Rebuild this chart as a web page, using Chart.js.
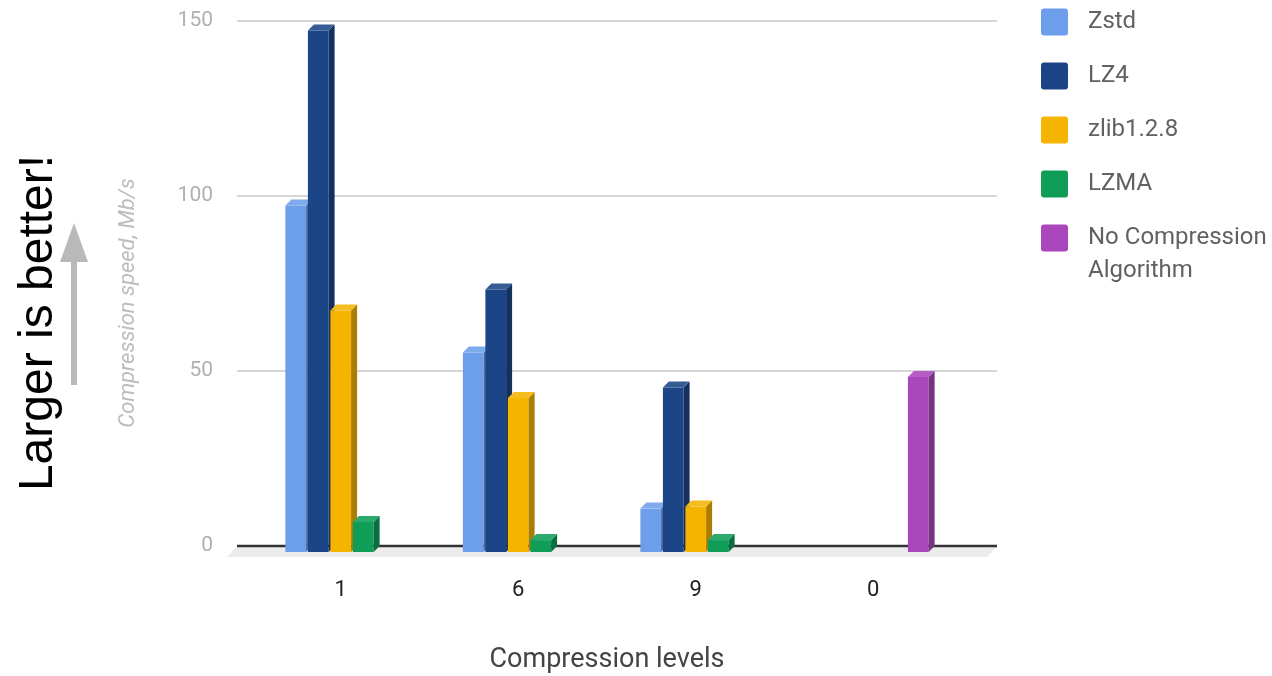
<!DOCTYPE html>
<html>
<head>
<meta charset="utf-8">
<script src="https://cdn.jsdelivr.net/npm/chart.js@4.4.1/dist/chart.umd.min.js"></script>
<style>
    html, body { margin: 0; padding: 0; background: #fff; }
    #contenedor { position: relative; width: 1272px; height: 676px; }
</style>
</head>
<body>
<div id="contenedor"><canvas id="graficoCompresion" width="1272" height="676"></canvas></div>
<script>
// ===================================== Datos ==================
var niveles = ["1", "6", "9", "0"];
var zstd = [99, 57, 12.4, null];
var lz4 = [149, 75, 47, null];
var zlib = [69, 44, 13, null];
var lzma = [8.6, 3.4, 3.4, null];
var sinCompresion = [null, null, null, 50];
var nombresSeries = ["Zstd", "LZ4", "zlib1.2.8", "LZMA", "No Compression Algorithm"];
var coloresSeries = ["#6d9eeb", "#1c4587", "#f4b400", "#0f9d58", "#ab47bc"];
var ticksY = [0, 50, 100, 150];



// ===================================== Helpers de color ==================
function mezclar(hex, destino, f) {
    const n = parseInt(hex.slice(1), 16);
    const r = (n >> 16) & 255, g = (n >> 8) & 255, b = n & 255;
    const m = c => Math.round(c + (destino - c) * f);
    return `rgb(${m(r)}, ${m(g)}, ${m(b)})`;
}
function sombra(hex) { return mezclar(hex, 0, 0.3); }
function luz(hex) { return mezclar(hex, 255, 0.12); }

function partirTexto(ctx, texto, ancho) {
    const palabras = texto.split(" ");
    const lineas = [];
    let actual = "";
    palabras.forEach(p => {
        const prueba = actual ? actual + " " + p : p;
        if (actual && ctx.measureText(prueba).width > ancho) {
            lineas.push(actual);
            actual = p;
        } else {
            actual = prueba;
        }
    });
    if (actual) lineas.push(actual);
    return lineas;
}



// ===================================== Plugin barras 3D + extras ==================
var PROF = 6;

var barras3D = {
    id: "barras3D",
    beforeDatasetsDraw(chart) {
        const ctx = chart.ctx;
        const ca = chart.chartArea;
        const ejeY = chart.scales.y;
        const gl = ca.left - 15, gr = ca.right + 35;
        const y0 = ejeY.getPixelForValue(0);

        ctx.save();
        // piso
        ctx.fillStyle = "#ececec";
        ctx.beginPath();
        ctx.moveTo(gl, y0);
        ctx.lineTo(gr, y0);
        ctx.lineTo(gr - 10, y0 + 11);
        ctx.lineTo(gl - 10, y0 + 11);
        ctx.closePath();
        ctx.fill();

        // lineas de grilla
        ticksY.forEach(v => {
            if (v === 0) return;
            const py = Math.round(ejeY.getPixelForValue(v));
            ctx.strokeStyle = "#d6d6d6";
            ctx.lineWidth = 2;
            ctx.beginPath();
            ctx.moveTo(gl, py);
            ctx.lineTo(gr, py);
            ctx.stroke();
        });

        ctx.strokeStyle = "#333";
        ctx.lineWidth = 2.5;
        ctx.beginPath();
        ctx.moveTo(gl, y0);
        ctx.lineTo(gr, y0);
        ctx.stroke();
        ctx.restore();
    },
    beforeDatasetDraw() {
        return false;
    },
    afterDatasetsDraw(chart) {
        const ctx = chart.ctx;
        const d = PROF;
        ctx.save();
        chart.data.datasets.forEach((ds, i) => {
            const meta = chart.getDatasetMeta(i);
            const color = ds.backgroundColor;
            meta.data.forEach((el, j) => {
                if (ds.data[j] == null) return;
                const izq = el.x - el.width / 2;
                const der = el.x + el.width / 2;
                const arriba = el.y + d;
                const abajo = el.base + d;

                ctx.fillStyle = color;
                ctx.fillRect(izq, arriba, der - izq, abajo - arriba);

                ctx.fillStyle = sombra(color);
                ctx.beginPath();
                ctx.moveTo(der, arriba);
                ctx.lineTo(der + d, arriba - d);
                ctx.lineTo(der + d, abajo - d);
                ctx.lineTo(der, abajo);
                ctx.closePath();
                ctx.fill();

                ctx.fillStyle = luz(color);
                ctx.beginPath();
                ctx.moveTo(izq, arriba);
                ctx.lineTo(izq + d, arriba - d);
                ctx.lineTo(der + d, arriba - d);
                ctx.lineTo(der, arriba);
                ctx.closePath();
                ctx.fill();
            });
        });
        ctx.restore();
    },
    afterDraw(chart) {
        const ctx = chart.ctx;
        ctx.save();

        // leyenda
        ctx.font = "24px Roboto";
        ctx.textBaseline = "middle";
        ctx.textAlign = "left";
        chart.data.datasets.forEach((ds, i) => {
            const yc = 22 + i * 54;
            ctx.fillStyle = ds.backgroundColor;
            ctx.beginPath();
            ctx.roundRect(1041, yc - 13.5, 27, 27, 3);
            ctx.fill();
            ctx.fillStyle = "#616161";
            partirTexto(ctx, ds.label, 185).forEach((l, k) => {
                ctx.fillText(l, 1088, yc + k * 33);
            });
        });

        // titulo eje Y
        ctx.save();
        ctx.translate(128, 303);
        ctx.rotate(-Math.PI / 2);
        ctx.font = "italic 22px Roboto";
        ctx.fillStyle = "#bdbdbd";
        ctx.textAlign = "center";
        ctx.textBaseline = "middle";
        ctx.fillText("Compression speed, Mb/s", 0, 0);
        ctx.restore();

        // anotacion "Larger is better!"
        ctx.save();
        ctx.translate(52, 323);
        ctx.rotate(-Math.PI / 2);
        ctx.font = "48px 'Liberation Sans'";
        ctx.fillStyle = "#000";
        ctx.textAlign = "center";
        ctx.textBaseline = "alphabetic";
        ctx.fillText("Larger is better!", 0, 0);
        ctx.restore();

        // flecha
        ctx.fillStyle = "#b9b9b9";
        ctx.fillRect(71, 260, 6, 125);
        ctx.beginPath();
        ctx.moveTo(74, 223);
        ctx.lineTo(88, 262);
        ctx.lineTo(60, 262);
        ctx.closePath();
        ctx.fill();

        ctx.restore();
    }
};



// ===================================== Grafico ==================
var series = [zstd, lz4, zlib, lzma, sinCompresion];

var chartCompresion = new Chart(document.getElementById("graficoCompresion"), {
    type: "bar",
    data: {
        labels: niveles,
        datasets: series.map((s, i) => ({
            label: nombresSeries[i],
            data: s,
            backgroundColor: coloresSeries[i],
            barPercentage: 0.92,
            categoryPercentage: 0.634
        }))
    },
    options: {
        responsive: false,
        animation: false,
        events: [],
        layout: { padding: { top: 21, right: 310, bottom: 0, left: 0 } },
        plugins: {
            legend: { display: false },
            tooltip: { enabled: false }
        },
        scales: {
            x: {
                // el largo de tick separa las etiquetas sin sumar padding lateral
                grid: { display: false, drawTicks: true, tickLength: 31 },
                border: { display: false },
                ticks: { color: "#222", font: { family: "Roboto", size: 22 }, padding: 0 },
                title: {
                    display: true,
                    text: "Compression levels",
                    color: "#444",
                    font: { family: "Roboto", size: 27 },
                    padding: { top: 0, bottom: 0 }
                },
                afterFit: s => { s.height = 130; }
            },
            y: {
                min: 0,
                max: 150,
                grid: { display: false, drawTicks: true, tickLength: 39 },
                border: { display: false },
                ticks: { stepSize: 50, color: "#b0b0b0", font: { family: "Roboto", size: 21 }, padding: 0 },
                afterFit: s => { s.width = 252; }
            }
        }
    },
    plugins: [barras3D]
});
</script>
</body>
</html>
